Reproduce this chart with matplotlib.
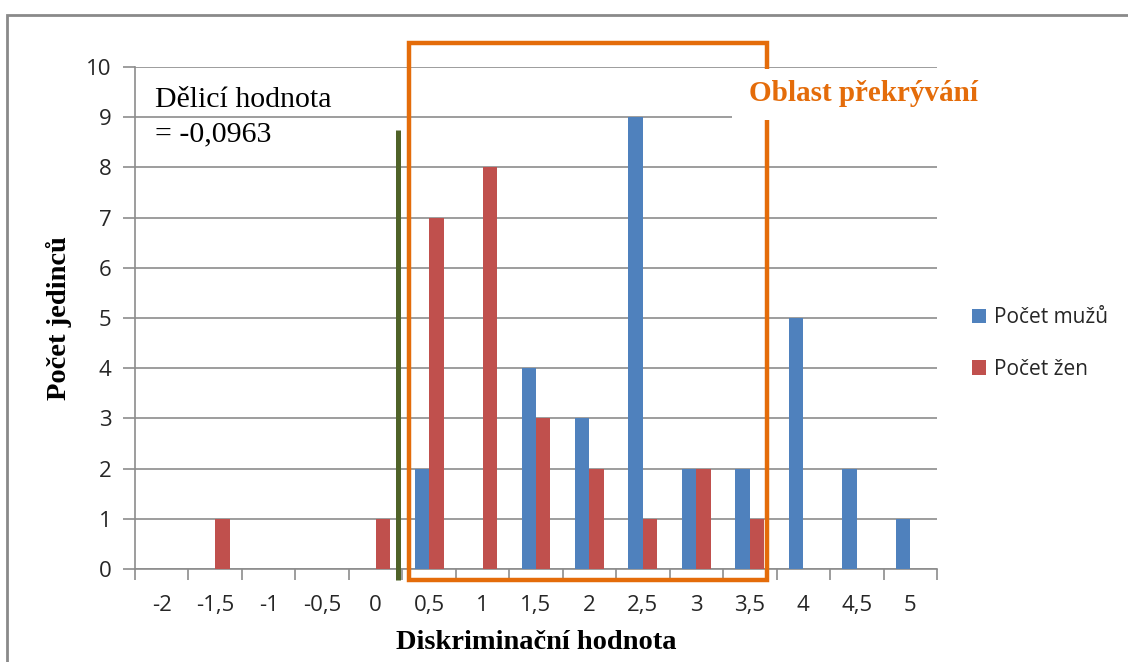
import matplotlib
matplotlib.use("Agg")
import matplotlib.pyplot as plt
from matplotlib.patches import Rectangle
import numpy as np

categories = ["-2", "-1,5", "-1", "-0,5", "0", "0,5", "1", "1,5", "2", "2,5", "3", "3,5", "4", "4,5", "5"]
muzi = [0, 0, 0, 0, 0, 2, 0, 4, 3, 9, 2, 2, 5, 2, 1]
zeny = [0, 1, 0, 0, 1, 7, 8, 3, 2, 1, 2, 1, 0, 0, 0]
series_names = ["Počet mužů", "Počet žen"]

W, H = 1128, 662
fig = plt.figure(figsize=(W / 100, H / 100), dpi=100)
ax = fig.add_axes([135 / W, 1 - 569 / H, (937 - 135) / W, (569 - 67) / H])

blue = "#4F81BD"
red = "#C0504D"
orange = "#E46C0A"
green = "#4F6228"
grid = "#8C8C8C"
tickfont = "Open Sans"

x = np.arange(len(categories))
bw = 0.27
ax.bar(x - bw / 2, muzi, bw, color=blue, label=series_names[0], zorder=3)
ax.bar(x + bw / 2, zeny, bw, color=red, label=series_names[1], zorder=3)

ax.set_xlim(-0.5, len(categories) - 0.5)
ax.set_ylim(0, 10)
ax.set_yticks(range(0, 11))
ax.yaxis.grid(True, color=grid, linewidth=1.2, zorder=0)
ax.set_axisbelow(True)
for s in ["top", "right"]:
    ax.spines[s].set_visible(False)
ax.spines["left"].set_color(grid)
ax.spines["bottom"].set_color(grid)
ax.spines["left"].set_linewidth(1.2)
ax.spines["bottom"].set_linewidth(1.2)

ax.set_xticks(x)
ax.set_xticklabels(categories)
ax.set_xticks(np.arange(-0.5, len(categories)), minor=True)
ax.tick_params(axis="x", which="major", length=0, pad=19, labelsize=16, labelcolor="#262626")
ax.tick_params(axis="x", which="minor", length=8, color=grid, width=1.2)
ax.tick_params(axis="y", length=9, color=grid, width=1.2, labelsize=16, pad=8, labelcolor="#262626")
for lab in ax.get_xticklabels() + ax.get_yticklabels():
    lab.set_family(tickfont)

ax.set_xlabel("Diskriminační hodnota", family="Liberation Serif", fontweight="bold",
              fontsize=20.5, labelpad=10)
ax.set_ylabel("Počet jedinců", family="Liberation Serif", fontweight="bold",
              fontsize=20.5, labelpad=10)

# Dividing value line
ax.plot([4.41, 4.41], [-0.22, 8.75], color=green, linewidth=3.6, clip_on=False,
        zorder=5, solid_capstyle="butt")

# Overlap area rectangle
ax.add_patch(Rectangle((4.62, -0.22), 11.32 - 4.62, 10.48 + 0.22, fill=False,
                       edgecolor=orange, linewidth=3.2, clip_on=False, zorder=6))

# White text box behind label
ax.add_patch(Rectangle((10.66, 8.94), 5.5, 1.03, facecolor="white", edgecolor="none",
                       clip_on=False, zorder=7))
ax.text(10.98, 9.47, "Oblast překrývání", family="Liberation Serif", fontweight="bold",
        fontsize=21, color=orange, va="center", ha="left", zorder=8, clip_on=False)

ax.text(-0.13, 9.34, "Dělicí hodnota", family="Liberation Serif",
        fontsize=21.5, color="black", va="center", ha="left", zorder=8)
ax.text(-0.13, 8.66, "= -0,0963", family="Liberation Serif",
        fontsize=21.5, color="black", va="center", ha="left", zorder=8)

leg = ax.legend(loc="center left", bbox_to_anchor=(1.02, 0.449), frameon=False,
                prop={"family": tickfont, "size": 15}, handlelength=0.7, handleheight=0.7,
                handletextpad=0.35, labelspacing=1.45)
for t in leg.get_texts():
    t.set_color("#262626")

# chart border
fig.patches.append(Rectangle((7 / W, -0.1), 1.2, 1 - 15 / H + 0.1, transform=fig.transFigure,
                             fill=False, edgecolor="#8A8A8A", linewidth=2.0))

fig.savefig("out.png", dpi=100)
